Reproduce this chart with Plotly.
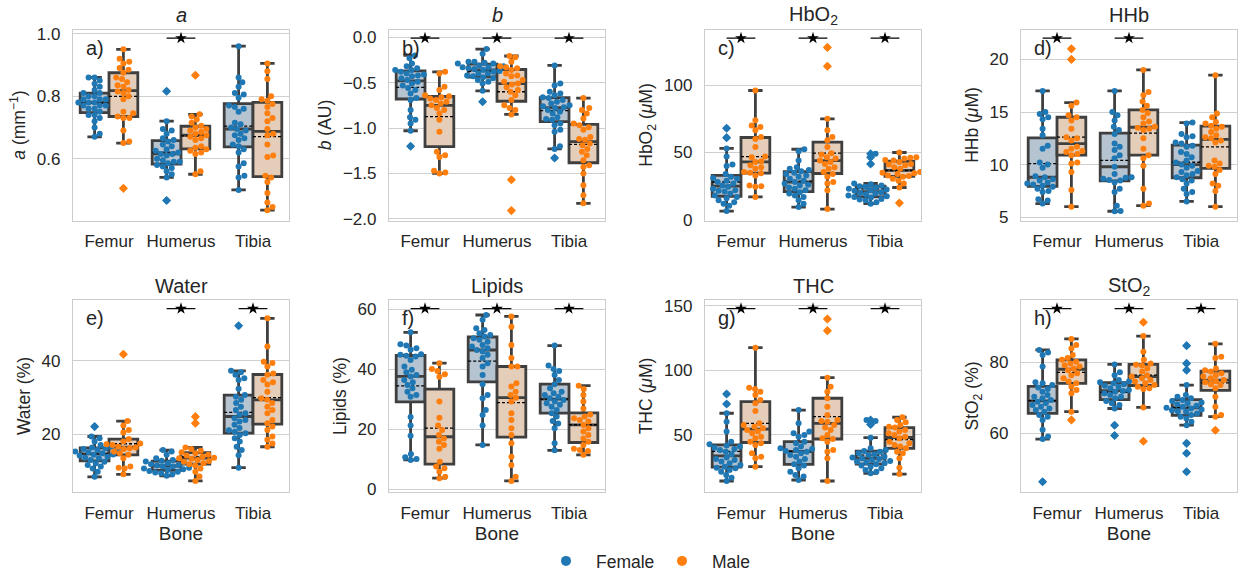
import numpy as np
import plotly.graph_objects as go

# ---------------- data ----------------
BONES = ["Femur", "Humerus", "Tibia"]
SEXES = ["Female", "Male"]

a_female_femur = [0.86, 0.86, 0.85, 0.84, 0.83, 0.82, 0.81, 0.81, 0.80, 0.80, 0.79, 0.79, 0.79, 0.78, 0.78, 0.78, 0.77, 0.77, 0.77, 0.76, 0.76, 0.75, 0.74, 0.74, 0.73, 0.72, 0.70, 0.68, 0.67]
a_male_femur = [0.95, 0.92, 0.91, 0.905, 0.89, 0.885, 0.875, 0.86, 0.855, 0.845, 0.835, 0.83, 0.82, 0.815, 0.81, 0.80, 0.79, 0.75, 0.745, 0.735, 0.73, 0.73, 0.69, 0.655, 0.65, 0.505]
a_female_humerus = [0.816, 0.72, 0.695, 0.69, 0.68, 0.665, 0.66, 0.655, 0.645, 0.64, 0.63, 0.625, 0.62, 0.615, 0.615, 0.61, 0.60, 0.595, 0.59, 0.59, 0.585, 0.58, 0.575, 0.57, 0.56, 0.55, 0.54, 0.466]
a_male_humerus = [0.867, 0.742, 0.735, 0.725, 0.715, 0.705, 0.70, 0.695, 0.69, 0.685, 0.68, 0.675, 0.67, 0.665, 0.66, 0.64, 0.635, 0.63, 0.625, 0.62, 0.615, 0.56, 0.55]
a_female_tibia = [0.96, 0.86, 0.845, 0.83, 0.81, 0.805, 0.795, 0.77, 0.765, 0.76, 0.75, 0.715, 0.71, 0.70, 0.695, 0.69, 0.68, 0.675, 0.665, 0.66, 0.645, 0.64, 0.63, 0.62, 0.585, 0.575, 0.545, 0.54, 0.50]
a_male_tibia = [0.905, 0.88, 0.855, 0.80, 0.79, 0.785, 0.775, 0.765, 0.745, 0.73, 0.72, 0.695, 0.68, 0.675, 0.645, 0.61, 0.605, 0.545, 0.54, 0.525, 0.49, 0.46, 0.445, 0.435]

b_female_femur = [-0.20, -0.23, -0.29, -0.32, -0.34, -0.36, -0.36, -0.38, -0.40, -0.41, -0.42, -0.43, -0.45, -0.47, -0.49, -0.51, -0.53, -0.56, -0.58, -0.62, -0.67, -0.69, -0.80, -0.88, -0.91, -0.95, -1.03, -1.20]
b_male_femur = [-0.38, -0.40, -0.545, -0.58, -0.64, -0.65, -0.66, -0.675, -0.69, -0.71, -0.73, -0.75, -0.78, -0.80, -0.84, -0.91, -1.04, -1.26, -1.30, -1.32, -1.47, -1.49, -1.50]
b_female_humerus = [-0.13, -0.18, -0.27, -0.27, -0.28, -0.29, -0.29, -0.31, -0.32, -0.33, -0.33, -0.34, -0.35, -0.36, -0.37, -0.38, -0.40, -0.40, -0.42, -0.43, -0.44, -0.45, -0.47, -0.49, -0.51, -0.59, -0.71]
b_male_humerus = [-0.206, -0.22, -0.27, -0.32, -0.33, -0.34, -0.36, -0.40, -0.42, -0.43, -0.47, -0.49, -0.51, -0.52, -0.55, -0.58, -0.60, -0.64, -0.69, -0.75, -0.78, -0.80, -0.85, -1.57, -1.91]
b_female_tibia = [-0.31, -0.51, -0.53, -0.60, -0.62, -0.64, -0.66, -0.67, -0.69, -0.71, -0.73, -0.75, -0.76, -0.77, -0.78, -0.80, -0.82, -0.84, -0.88, -0.90, -0.91, -0.95, -0.97, -1.02, -1.04, -1.20, -1.23, -1.33]
b_male_tibia = [-0.67, -0.78, -0.80, -0.84, -0.895, -0.95, -0.97, -0.99, -1.02, -1.10, -1.12, -1.13, -1.17, -1.19, -1.23, -1.26, -1.30, -1.355, -1.41, -1.43, -1.50, -1.63, -1.74, -1.83]

hbo2_female_femur = [68, 61, 53, 47, 41, 40, 34, 32, 31, 30.5, 29, 28, 27, 25.5, 24.5, 23, 22, 21.5, 21, 19.5, 18, 17, 16, 14.5, 13, 12, 10.5, 6.5]
hbo2_male_femur = [96, 74, 70, 69, 66.5, 61.5, 60, 54, 47, 46.5, 43.5, 43, 40.5, 39, 38, 35.5, 35, 34.5, 33, 25.5, 25, 24.5, 17]
hbo2_female_humerus = [52.4, 51, 44, 39, 38, 37, 36, 35, 34, 33, 32, 30.5, 29, 28, 27, 26, 25.5, 24, 23, 22, 20.5, 19.5, 18, 17, 14.5, 12, 9.5]
hbo2_male_humerus = [128, 114, 75, 66.5, 61.5, 59, 54, 49.5, 48.5, 46.5, 45.5, 44, 43, 41.5, 39, 38, 35.5, 34, 32, 28, 27, 22, 8]
hbo2_female_tibia = [49, 46.5, 41.5, 27, 26.5, 25.5, 25, 24.5, 24, 23, 22.5, 22, 21.5, 20.5, 20, 19.5, 19, 18, 17.5, 17, 16.5, 15.5, 15, 14.5, 13, 12]
hbo2_male_tibia = [50, 46.5, 46, 45.5, 44.5, 44, 43, 41.5, 41, 40.5, 39, 38, 35.5, 35, 34.5, 34, 33, 32.5, 32, 30.5, 29, 27, 24, 12.5]

hhb_female_femur = [17.0, 15.0, 14.8, 14.5, 14.3, 13.4, 12.8, 11.8, 11.5, 10.2, 10.0, 9.7, 8.9, 8.8, 8.6, 8.5, 8.3, 8.2, 8.1, 8.0, 7.9, 7.7, 7.5, 7.4, 6.7, 6.6, 6.3]
hhb_male_femur = [21.0, 20.0, 15.9, 15.6, 14.7, 14.5, 14.2, 13.4, 12.6, 12.5, 12.3, 11.7, 11.5, 11.3, 11.2, 11.0, 10.9, 10.2, 10.1, 9.3, 7.6, 6.0]
hhb_female_humerus = [17.0, 15.0, 14.7, 14.2, 13.6, 13.3, 12.9, 12.0, 11.7, 11.4, 10.9, 10.6, 9.8, 9.1, 8.8, 8.75, 8.65, 8.55, 8.5, 8.3, 7.7, 7.4, 6.1, 5.6, 5.57]
hhb_male_humerus = [19.0, 16.9, 16.6, 16.0, 15.6, 15.2, 14.9, 14.5, 14.1, 13.9, 13.6, 13.5, 13.4, 13.3, 12.5, 11.5, 10.9, 10.6, 9.9, 7.7, 6.3, 6.1]
hhb_female_tibia = [14.0, 13.9, 12.9, 12.7, 12.6, 12.1, 12.0, 11.8, 11.7, 11.2, 11.0, 10.7, 10.4, 10.2, 10.0, 9.9, 9.7, 9.4, 9.3, 9.1, 9.0, 8.8, 8.6, 8.5, 8.2, 7.7, 7.4, 7.2, 6.5]
hhb_male_tibia = [18.5, 14.85, 14.5, 14.05, 13.9, 13.7, 13.6, 13.4, 13.1, 12.8, 12.6, 12.5, 12.3, 12.1, 10.4, 10.1, 9.9, 9.8, 9.5, 9.1, 8.2, 8.0, 7.5, 6.0]

water_female_femur = [22.1, 19.4, 18.9, 18.0, 17.1, 16.6, 16.4, 16.2, 16.0, 15.7, 15.5, 15.3, 15.1, 14.8, 14.5, 14.4, 14.2, 13.9, 13.6, 13.5, 13.0, 12.5, 12.1, 11.6, 11.2, 10.7, 9.8, 8.4]
water_male_femur = [41.8, 23.6, 22.4, 21.2, 20.5, 18.7, 18.0, 17.5, 17.3, 17.1, 16.6, 16.4, 16.2, 16.0, 15.3, 14.8, 14.4, 13.5, 11.2, 10.9, 10.7, 9.1]
water_female_humerus = [15.7, 15.3, 14.4, 13.5, 13.0, 12.8, 12.6, 12.4, 12.1, 11.8, 11.6, 11.5, 11.2, 11.2, 10.9, 10.7, 10.5, 10.3, 10.0, 9.8, 9.6, 9.4, 9.1, 8.7]
water_male_humerus = [24.8, 23.0, 16.4, 16.0, 15.5, 15.1, 14.8, 14.4, 14.2, 13.9, 13.6, 13.5, 13.3, 13.0, 12.7, 12.5, 12.1, 11.8, 11.5, 10.7, 9.8, 8.5, 7.3]
water_female_tibia = [49.6, 37.3, 36.9, 36.2, 35.3, 34.8, 32.4, 30.7, 30.2, 29.4, 28.5, 27.5, 26.6, 25.7, 25.3, 24.4, 23.9, 23.5, 22.6, 21.7, 21.1, 20.7, 20.3, 19.8, 18.9, 18.0, 16.6, 15.7, 14.3, 10.9]
water_male_tibia = [51.6, 43.9, 39.8, 39.4, 38.5, 36.6, 36.2, 34.8, 34.2, 33.6, 31.6, 29.8, 29.4, 28.5, 27.5, 26.6, 25.7, 23.9, 23.0, 22.1, 21.2, 19.4, 18.5, 17.5, 16.6]

lipids_female_femur = [52.3, 48.3, 47.9, 47.0, 46.5, 45.0, 44.8, 44.5, 44.2, 43.1, 40.9, 39.8, 39.0, 38.1, 37.6, 36.4, 35.6, 34.7, 33.6, 32.5, 31.4, 30.8, 24.0, 21.2, 17.8, 11.7, 10.6, 10.0, 9.7]
lipids_male_femur = [42.0, 40.1, 39.4, 38.3, 37.5, 29.2, 23.8, 21.2, 19.7, 18.0, 16.9, 15.8, 14.7, 13.4, 9.1, 7.5, 6.9, 5.8, 4.1, 3.6]
lipids_female_humerus = [58.1, 56.5, 53.7, 53.1, 52.0, 51.4, 50.9, 50.3, 49.8, 49.2, 48.1, 47.6, 47.0, 46.4, 45.9, 44.8, 43.7, 42.0, 40.9, 38.1, 35.0, 31.4, 30.3, 26.4, 24.7, 21.2, 14.7]
lipids_male_humerus = [57.6, 54.2, 48.1, 43.7, 40.9, 40.9, 35.3, 34.2, 32.5, 31.4, 30.5, 29.2, 25.3, 23.0, 20.3, 18.0, 15.3, 10.8, 8.0, 4.1, 2.7]
lipids_female_tibia = [47.9, 41.2, 40.1, 39.4, 38.1, 36.4, 35.0, 33.6, 32.5, 32.0, 31.4, 30.8, 30.3, 29.7, 29.2, 28.6, 28.1, 27.5, 26.4, 25.3, 24.2, 22.7, 21.9, 20.3, 15.3, 12.9]
lipids_male_tibia = [34.5, 33.4, 31.4, 29.2, 26.9, 24.9, 24.2, 23.6, 23.0, 22.5, 21.4, 20.3, 19.2, 18.0, 16.9, 15.8, 14.7, 13.4, 13.0, 12.7, 11.4]

thc_female_femur = [81.7, 74.0, 66.8, 60.3, 52.6, 44.8, 42.8, 41.8, 41.0, 40.2, 39.2, 38.4, 37.1, 35.1, 32.5, 31.4, 30.7, 29.4, 28.1, 26.8, 25.5, 24.7, 24.2, 22.9, 21.6, 19.1, 17.0, 14.4]
thc_male_femur = [117.5, 86.6, 85.6, 83.5, 80.9, 77.1, 74.5, 68.6, 59.0, 57.7, 56.4, 55.2, 53.9, 52.6, 51.3, 48.7, 47.4, 44.8, 43.6, 42.3, 35.8, 33.2, 32.0, 25.5]
thc_female_humerus = [69.3, 59.0, 52.6, 51.3, 50.0, 48.7, 44.8, 43.6, 41.0, 39.7, 39.2, 38.4, 37.6, 37.1, 35.8, 34.5, 33.2, 31.4, 29.4, 27.3, 26.3, 24.2, 21.6, 19.1, 17.8, 15.2]
thc_male_humerus = [139.7, 130.7, 94.3, 87.4, 83.5, 78.4, 71.9, 65.5, 61.6, 60.8, 60.3, 57.7, 55.7, 53.9, 50.0, 47.4, 46.9, 44.8, 38.4, 37.1, 32.0, 14.4]
thc_female_tibia = [61.6, 60.8, 58.2, 47.9, 39.7, 38.4, 37.6, 37.1, 35.8, 35.1, 34.5, 33.2, 32.5, 32.0, 31.4, 30.7, 29.9, 29.4, 28.9, 28.1, 27.3, 26.3, 25.5, 24.2, 22.9, 21.6, 20.4]
thc_male_tibia = [63.7, 61.6, 59.8, 57.7, 56.4, 55.7, 53.9, 52.6, 51.3, 50.0, 48.7, 47.4, 44.8, 43.6, 42.3, 41.0, 39.7, 37.1, 35.8, 32.0, 24.7, 19.8]

sto2_female_femur = [83.5, 82.8, 82.1, 78.8, 74.4, 74.1, 73.6, 72.9, 72.5, 71.7, 70.8, 70.3, 69.9, 69.4, 68.9, 68.5, 68.0, 67.5, 67.0, 66.6, 66.1, 65.2, 64.7, 63.8, 61.0, 59.1, 58.4, 46.4]
sto2_male_femur = [86.6, 84.9, 83.9, 82.1, 81.2, 80.7, 80.2, 79.7, 79.2, 78.8, 78.3, 77.8, 76.9, 76.4, 75.5, 74.6, 74.1, 73.1, 72.2, 71.3, 66.1, 63.8]
sto2_female_humerus = [79.4, 77.2, 76.4, 75.0, 74.7, 74.4, 74.1, 73.8, 73.4, 73.1, 72.7, 72.2, 71.9, 71.7, 71.3, 70.8, 70.3, 69.9, 69.1, 68.5, 68.0, 67.0, 62.3, 59.4]
sto2_male_humerus = [91.3, 87.4, 83.0, 80.7, 79.7, 79.3, 79.1, 78.3, 77.4, 76.4, 76.0, 75.5, 75.0, 74.6, 74.1, 73.6, 73.1, 72.7, 72.5, 67.3, 57.8]
sto2_female_tibia = [84.7, 79.7, 77.8, 73.6, 70.8, 70.3, 69.9, 69.4, 69.1, 68.7, 68.5, 68.2, 67.8, 67.5, 67.2, 67.0, 66.7, 66.5, 66.2, 66.1, 65.6, 65.2, 64.7, 64.2, 63.3, 62.3, 57.2, 54.4, 49.2]
sto2_male_tibia = [85.2, 81.6, 81.2, 78.3, 77.8, 77.4, 76.9, 76.4, 76.0, 75.5, 75.0, 74.7, 74.4, 73.8, 73.6, 72.7, 70.3, 67.5, 65.2, 64.7, 60.9]

PANEL_TITLES = ["<i>a</i>", "<i>b</i>", "HbO<sub>2</sub>", "HHb", "Water", "Lipids", "THC", "StO<sub>2</sub>"]
PANEL_YLABELS = ["<i>a</i> (mm<sup>−1</sup>)", "<i>b</i> (AU)", "HbO<sub>2</sub> (<i>μ</i>M)", "HHb (<i>μ</i>M)",
                 "Water (%)", "Lipids (%)", "THC (<i>μ</i>M)", "StO<sub>2</sub> (%)"]
PANEL_LETTERS = ["a)", "b)", "c)", "d)", "e)", "f)", "g)", "h)"]
SIGNIFICANT = [["Humerus"], ["Femur", "Humerus", "Tibia"], ["Femur", "Humerus", "Tibia"], ["Femur", "Humerus"],
               ["Humerus", "Tibia"], ["Femur", "Humerus", "Tibia"], ["Femur", "Humerus", "Tibia"], ["Femur", "Humerus", "Tibia"]]

PANEL_DATA = [
    [[a_female_femur, a_male_femur], [a_female_humerus, a_male_humerus], [a_female_tibia, a_male_tibia]],
    [[b_female_femur, b_male_femur], [b_female_humerus, b_male_humerus], [b_female_tibia, b_male_tibia]],
    [[hbo2_female_femur, hbo2_male_femur], [hbo2_female_humerus, hbo2_male_humerus], [hbo2_female_tibia, hbo2_male_tibia]],
    [[hhb_female_femur, hhb_male_femur], [hhb_female_humerus, hhb_male_humerus], [hhb_female_tibia, hhb_male_tibia]],
    [[water_female_femur, water_male_femur], [water_female_humerus, water_male_humerus], [water_female_tibia, water_male_tibia]],
    [[lipids_female_femur, lipids_male_femur], [lipids_female_humerus, lipids_male_humerus], [lipids_female_tibia, lipids_male_tibia]],
    [[thc_female_femur, thc_male_femur], [thc_female_humerus, thc_male_humerus], [thc_female_tibia, thc_male_tibia]],
    [[sto2_female_femur, sto2_male_femur], [sto2_female_humerus, sto2_male_humerus], [sto2_female_tibia, sto2_male_tibia]],
]

# ---------------- styling / layout ----------------
W, H = 1238, 573
COL_L = [73, 389, 705, 1021]
PW = 216
ROW_T = [29.5, 300]
ROW_B = [220.5, 492]
Y_RANGES = [[0.402, 1.0135], [-2.019, 0.086], [-0.5, 141.3], [4.69, 22.84],
            [4.27, 56.6], [-1.0, 63.1], [5.9, 154.4], [43.5, 97.55]]
Y_DTICK = [0.2, 0.5, 50, 5, 20, 20, 50, 20]
Y_FMT = [".1f", ".1f", "", "", "", "", "", ""]

HUE = ["#1f77b4", "#ff7f0e"]
BOX_FILL = ["#b5c4d0", "#e4cdb9"]
EDGE = "#3f3f3f"
FONT = "Liberation Sans, Arial, sans-serif"
TXT = "#262626"
DOT = 6.0
OFFSET = 0.2


def swarm_offsets(vals, ypx, xpx, d=DOT):
    vals = np.asarray(vals, dtype=float)
    order = np.argsort(vals)
    placed = []
    offs = np.zeros(len(vals))
    for i in order:
        y = vals[i] * ypx
        cands = [0.0]
        for py, px in placed:
            dy = abs(y - py)
            if dy < d:
                dx = np.sqrt(d * d - dy * dy)
                cands += [px + dx, px - dx]
        cands.sort(key=abs)
        chosen = cands[-1]
        for c in cands:
            if all((c - px) ** 2 + (y - py) ** 2 >= d * d - 1e-6 for py, px in placed):
                chosen = c
                break
        placed.append((y, chosen))
        offs[i] = chosen / xpx
    return offs


fig = go.Figure()
box_traces, top_traces = [], []
annotations = []

for k in range(8):
    r, c = divmod(k, 4)
    suf = "" if k == 0 else str(k + 1)
    xname, yname = "x" + suf, "y" + suf
    lo, hi = Y_RANGES[k]
    ph = ROW_B[r] - ROW_T[r]
    ypx = ph / (hi - lo)
    xpx = PW / 3.0

    for i, bone in enumerate(BONES):
        for j, sex in enumerate(SEXES):
            vals = PANEL_DATA[k][i][j]
            pos = i + (-OFFSET if j == 0 else OFFSET)
            box_traces.append(go.Box(
                y=vals, x=[pos] * len(vals), width=0.4, xaxis=xname, yaxis=yname,
                fillcolor=BOX_FILL[j], line=dict(color=EDGE, width=2.8), whiskerwidth=0.5,
                boxpoints="outliers", pointpos=0, jitter=0, quartilemethod="linear",
                marker=dict(symbol="diamond", size=7, color=HUE[j], line=dict(width=0)),
                showlegend=False, hoverinfo="skip"))
            m = float(np.mean(vals))
            top_traces.append(go.Scatter(
                x=[pos - 0.2, pos + 0.2], y=[m, m], mode="lines", xaxis=xname, yaxis=yname,
                line=dict(color="black", width=1.3, dash="3px,2px"), showlegend=False, hoverinfo="skip"))
            offs = swarm_offsets(vals, ypx, xpx)
            top_traces.append(go.Scatter(
                x=pos + offs, y=vals, mode="markers", xaxis=xname, yaxis=yname,
                marker=dict(size=DOT, color=HUE[j], line=dict(width=0)),
                showlegend=False, hoverinfo="skip"))

    ys = lo + 0.955 * (hi - lo)
    for bone in SIGNIFICANT[k]:
        i = BONES.index(bone)
        top_traces.append(go.Scatter(
            x=[i - OFFSET, i + OFFSET], y=[ys, ys], mode="lines", xaxis=xname, yaxis=yname,
            line=dict(color="black", width=1.2), showlegend=False, hoverinfo="skip"))
        top_traces.append(go.Scatter(
            x=[i], y=[ys], mode="markers", xaxis=xname, yaxis=yname,
            marker=dict(symbol="star", size=9, color="black", line=dict(width=0)),
            showlegend=False, hoverinfo="skip"))

    xa = dict(domain=[COL_L[c] / W, (COL_L[c] + PW) / W], anchor=yname, range=[-0.5, 2.5],
              tickvals=[0, 1, 2], ticktext=BONES, showgrid=False, zeroline=False,
              showline=True, mirror=True, linecolor="#cccccc", linewidth=1.3,
              ticks="outside", ticklen=5, tickcolor="rgba(0,0,0,0)",
              tickfont=dict(size=17, color=TXT, family=FONT), automargin=False)
    if r == 1:
        xa["title"] = dict(text="Bone", font=dict(size=19, color=TXT, family=FONT), standoff=2)
    ya = dict(domain=[1 - ROW_B[r] / H, 1 - ROW_T[r] / H], anchor=xname, range=[lo, hi],
              dtick=Y_DTICK[k], tick0=0, tickformat=Y_FMT[k], showgrid=True, gridcolor="#d0d0d0",
              gridwidth=1, zeroline=False, showline=True, mirror=True, linecolor="#cccccc",
              linewidth=1.3, ticks="outside", ticklen=8, tickcolor="rgba(0,0,0,0)",
              tickfont=dict(size=17, color=TXT, family=FONT), automargin=False,
              title=dict(text=PANEL_YLABELS[k], font=dict(size=17.5, color=TXT, family=FONT), standoff=6))
    fig.update_layout(**{"xaxis" + suf: xa, "yaxis" + suf: ya})

    annotations.append(dict(text=PANEL_TITLES[k], xref="paper", yref="paper",
                            x=(COL_L[c] + PW / 2) / W, y=1 - (ROW_T[r] - 14) / H,
                            xanchor="center", yanchor="middle", showarrow=False,
                            font=dict(size=20, color=TXT, family=FONT)))
    annotations.append(dict(text=PANEL_LETTERS[k], xref=xname + " domain", yref=yname + " domain",
                            x=0.05, y=0.905, xanchor="left", yanchor="middle", showarrow=False,
                            font=dict(size=20, color=TXT, family=FONT)))

for t in box_traces:
    fig.add_trace(t)
for t in top_traces:
    fig.add_trace(t)

for j, sex in enumerate(SEXES):
    fig.add_trace(go.Scatter(x=[None], y=[None], mode="markers", name=sex,
                             marker=dict(size=10, color=HUE[j]), showlegend=True))

fig.update_layout(
    width=W, height=H, margin=dict(l=0, r=0, t=0, b=0, autoexpand=False),
    paper_bgcolor="white", plot_bgcolor="white",
    font=dict(family=FONT, color=TXT),
    annotations=annotations,
    legend=dict(orientation="h", x=536 / W, y=1 - 561 / H, xanchor="left", yanchor="middle",
                font=dict(size=17.5, color=TXT, family=FONT), itemwidth=50,
                entrywidth=51, entrywidthmode="pixels",
                bgcolor="rgba(0,0,0,0)"),
)

# remove the browser's default 8px body margin so the figure fills the window exactly
fig.write_html("out.html", config={"displayModeBar": False},
               post_script="document.body.style.margin='0px';")
